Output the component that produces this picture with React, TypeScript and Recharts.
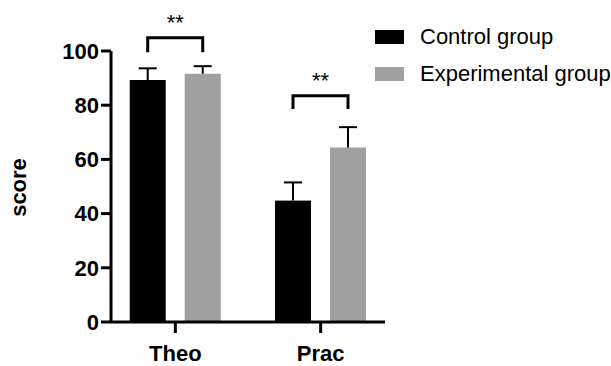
import React from "react";
import { BarChart, Bar, XAxis, YAxis, Legend } from "recharts";

// values
const categories = ["Theo", "Prac"];
const controlMean = [89.3, 44.8];
const controlErr = [4.3, 6.7];
const experimentalMean = [91.6, 64.4];
const experimentalErr = [2.8, 7.5];
const sigLabels = ["**", "**"];
const sigTop = [104.9, 83.5];
const sigLegBottom = [99.5, 78.6];
const yTicks = [0, 20, 40, 60, 80, 100];

const BAR_SIZE = 36;
const BAR_GAP = 19;

const data = categories.map((name, i) => ({
  x: i,
  name,
  control: controlMean[i],
  controlErr: controlErr[i],
  experimental: experimentalMean[i],
  experimentalErr: experimentalErr[i],
  sig: sigLabels[i],
  sigTop: sigTop[i],
  sigLeg: sigLegBottom[i],
}));

const makeShape = (valueKey: string, errKey: string, withSig: boolean) => (props: any) => {
  const { x, y, width, height, fill, payload } = props;
  const v = payload[valueKey];
  const ppu = height / v; // pixels per unit from the bar's own scale
  const zero = y + height;
  const cx = x + width / 2;
  const errTop = y - payload[errKey] * ppu;
  let sig = null;
  if (withSig) {
    const left = cx;
    const right = cx + width + BAR_GAP;
    const top = zero - payload.sigTop * ppu;
    const leg = zero - payload.sigLeg * ppu;
    sig = (
      <g>
        <path
          d={`M${left},${leg}V${top}H${right}V${leg}`}
          fill="none"
          stroke="#000"
          strokeWidth={3}
        />
        <text
          x={(left + right) / 2}
          y={top - 7.5}
          textAnchor="middle"
          fontSize={22}
          fill="#000"
        >
          {payload.sig}
        </text>
      </g>
    );
  }
  return (
    <g>
      <rect x={x} y={y} width={width} height={height} fill={fill} />
      <line x1={cx} y1={y} x2={cx} y2={errTop} stroke="#000" strokeWidth={2} />
      <line x1={cx - 9} y1={errTop} x2={cx + 9} y2={errTop} stroke="#000" strokeWidth={2} />
      {sig}
    </g>
  );
};

const renderLegend = (props: any) => {
  const { payload } = props;
  return (
    <div>
      {(payload || []).map((entry: any) => (
        <div
          key={entry.value}
          style={{ display: "flex", alignItems: "center", height: 37 }}
        >
          <div style={{ width: 29, height: 14, background: entry.color }} />
          <span style={{ marginLeft: 16, fontSize: 22, color: "#000", whiteSpace: "nowrap" }}>
            {entry.value}
          </span>
        </div>
      ))}
    </div>
  );
};

const ScoreLabel = (props: any) => {
  const vb = props.viewBox || { x: 0, y: 51, width: 111, height: 271 };
  const cy = vb.y + vb.height / 2 + 1;
  const lx = 26;
  return (
    <text
      x={lx}
      y={cy}
      transform={`rotate(-90, ${lx}, ${cy})`}
      textAnchor="middle"
      fontSize={22}
      fontWeight="bold"
      fill="#000"
    >
      score
    </text>
  );
};

export default function App() {
  return (
    <div style={{ width: 611, height: 366, fontFamily: "'Liberation Sans', Arial, sans-serif", background: "#fff" }}>
      <style>{"body{margin:0}"}</style>
      <BarChart
        width={611}
        height={366}
        data={data}
        margin={{ top: 51, right: 226, bottom: 0, left: 0 }}
        barGap={BAR_GAP}
      >
        <XAxis
          dataKey="x"
          type="number"
          domain={[-0.443, 1.443]}
          ticks={[0, 1]}
          allowDataOverflow
          tickFormatter={(i: number) => categories[i]}
          height={44}
          axisLine={{ stroke: "#000", strokeWidth: 3 }}
          tickLine={{ stroke: "#000", strokeWidth: 3 }}
          tickSize={11}
          tickMargin={12}
          tick={{ fill: "#000", fontSize: 22, fontWeight: "bold" }}
        />
        <YAxis
          domain={[0, 100]}
          ticks={yTicks}
          width={111}
          axisLine={{ stroke: "#000", strokeWidth: 3 }}
          tickLine={{ stroke: "#000", strokeWidth: 3 }}
          tickSize={10}
          tickMargin={2}
          tick={{ fill: "#000", fontSize: 22, fontWeight: "bold" }}
          label={{ content: <ScoreLabel /> }}
        />
        <Legend
          layout="vertical"
          align="center"
          verticalAlign="middle"
          content={renderLegend}
          wrapperStyle={{ left: 375, top: 18.5, width: 236, height: 74 }}
        />
        <Bar
          dataKey="control"
          name="Control group"
          fill="#000000"
          barSize={BAR_SIZE}
          legendType="rect"
          isAnimationActive={false}
          shape={makeShape("control", "controlErr", true)}
        />
        <Bar
          dataKey="experimental"
          name="Experimental group"
          fill="#a0a0a0"
          barSize={BAR_SIZE}
          legendType="rect"
          isAnimationActive={false}
          shape={makeShape("experimental", "experimentalErr", false)}
        />
      </BarChart>
    </div>
  );
}
